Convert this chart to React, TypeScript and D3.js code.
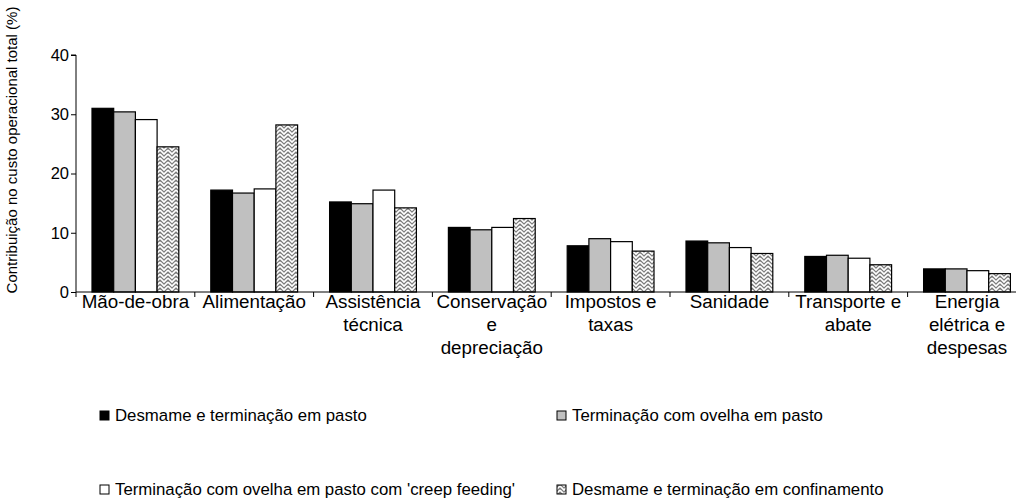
import React, { useRef, useEffect } from "react";
import * as d3 from "d3";

const categories = [
  ["Mão-de-obra"],
  ["Alimentação"],
  ["Assistência", "técnica"],
  ["Conservação", "e", "depreciação"],
  ["Impostos e", "taxas"],
  ["Sanidade"],
  ["Transporte e", "abate"],
  ["Energia", "elétrica e", "despesas"],
];

const seriesNames = [
  "Desmame e terminação em pasto",
  "Terminação com ovelha em pasto",
  "Terminação com ovelha em pasto com 'creep feeding'",
  "Desmame e terminação em confinamento",
];

const desmamePasto = [31.0, 17.2, 15.2, 10.9, 7.8, 8.6, 6.0, 3.9];
const ovelhaPasto = [30.4, 16.7, 14.9, 10.5, 9.0, 8.3, 6.2, 3.9];
const ovelhaCreep = [29.1, 17.4, 17.2, 10.9, 8.5, 7.5, 5.7, 3.6];
const confinamento = [24.5, 28.2, 14.2, 12.4, 6.9, 6.5, 4.6, 3.1];

const yTicks = [0, 10, 20, 30, 40];

const fills = ["#000000", "#c0c0c0", "#ffffff", "url(#zigzag)"];

const App: React.FC = () => {
  const ref = useRef<SVGSVGElement>(null);

  useEffect(() => {
    if (!ref.current) return;
    const svg = d3.select(ref.current);
    svg.selectAll("*").remove();

    const font = "Arial, 'Liberation Sans', sans-serif";
    const left = 76;
    const step = 118.8;
    const values = [desmamePasto, ovelhaPasto, ovelhaCreep, confinamento];
    const keys = categories.map((c) => c.join(" "));

    // herringbone-like pattern for the last series
    const defs = svg.append("defs");
    const pat = defs
      .append("pattern")
      .attr("id", "zigzag")
      .attr("patternUnits", "userSpaceOnUse")
      .attr("width", 8)
      .attr("height", 8);
    pat.append("rect").attr("width", 8).attr("height", 8).attr("fill", "#7a7a7a");
    pat
      .append("path")
      .attr("d", "M0,2 L4,6 L8,2 M0,-2 L4,2 L8,-2 M0,6 L4,10 L8,6")
      .attr("fill", "none")
      .attr("stroke", "#ffffff")
      .attr("stroke-width", 1.6);

    const x = d3
      .scaleBand<string>()
      .domain(keys)
      .range([left, left + step * keys.length]);
    const xs = d3
      .scaleBand<number>()
      .domain([0, 1, 2, 3])
      .range([0, x.bandwidth()])
      .paddingOuter(0.737);
    const y = d3.scaleLinear().domain([0, 40]).range([292, 55]);

    // bars
    values.forEach((vals, si) => {
      svg
        .append("g")
        .selectAll("rect")
        .data(vals)
        .join("rect")
        .attr("x", (_, i) => x(keys[i])! + xs(si)!)
        .attr("y", (d) => y(d))
        .attr("width", xs.bandwidth())
        .attr("height", (d) => y(0) - y(d))
        .attr("fill", fills[si])
        .attr("stroke", "#000")
        .attr("stroke-width", 1.2);
    });

    // y axis
    const yAxis = svg
      .append("g")
      .attr("transform", `translate(${left},0)`)
      .call(d3.axisLeft(y).tickValues(yTicks).tickSize(5).tickPadding(2));
    yAxis.select(".domain").attr("stroke", "#000").attr("d", `M-5,${y(40)}H0V${y(0) + 5}`);
    yAxis.selectAll("text").attr("font-size", 16.5).attr("font-family", font).attr("fill", "#000");

    // x axis line and ticks
    const xa = svg.append("g");
    xa.append("line")
      .attr("x1", left)
      .attr("x2", left + step * keys.length)
      .attr("y1", y(0))
      .attr("y2", y(0))
      .attr("stroke", "#000");
    xa.selectAll("line.tick")
      .data(keys.slice(1))
      .join("line")
      .attr("class", "tick")
      .attr("x1", (d) => x(d)!)
      .attr("x2", (d) => x(d)!)
      .attr("y1", y(0))
      .attr("y2", y(0) + 5)
      .attr("stroke", "#000");

    const labels = xa
      .selectAll("text")
      .data(categories)
      .join("text")
      .attr("font-family", font)
      .attr("font-size", 18.8)
      .attr("text-anchor", "middle")
      .attr("fill", "#000");
    labels
      .selectAll("tspan")
      .data((d, i) => d.map((t) => ({ t, i })))
      .join("tspan")
      .attr("x", (d) => x(keys[d.i])! + x.bandwidth() / 2)
      .attr("y", (_, j) => 308 + j * 23)
      .text((d) => d.t);

    // y title
    svg
      .append("text")
      .attr("transform", `translate(17,150) rotate(-90)`)
      .attr("text-anchor", "middle")
      .attr("font-family", font)
      .attr("font-size", 15)
      .text("Contribuição no custo operacional total (%)");

    // legend
    const legendPos = [
      [100, 421],
      [557, 421],
      [100, 495],
      [557, 495],
    ];
    const lg = svg.append("g");
    seriesNames.forEach((name, i) => {
      const [lx, ly] = legendPos[i];
      lg.append("rect")
        .attr("x", lx)
        .attr("y", ly - 10)
        .attr("width", 9)
        .attr("height", 9)
        .attr("fill", fills[i])
        .attr("stroke", "#000")
        .attr("stroke-width", 1);
      lg.append("text")
        .attr("x", lx + 15)
        .attr("y", ly)
        .attr("font-family", font)
        .attr("font-size", 16.8)
        .text(name);
    });
  }, []);

  return (
    <svg
      ref={ref}
      width={1016}
      height={499}
      style={{ position: "absolute", left: 0, top: 0, background: "#fff" }}
    ></svg>
  );
};

export default App;
